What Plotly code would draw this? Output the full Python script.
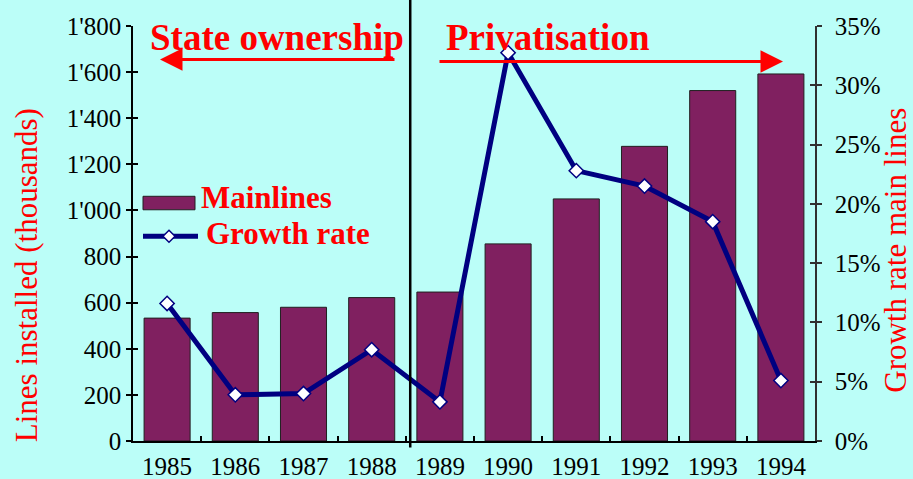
import plotly.graph_objects as go

years = ["1985", "1986", "1987", "1988", "1989", "1990", "1991", "1992", "1993", "1994"]
mainlines = [533, 557, 580, 622, 646, 855, 1050, 1278, 1520, 1592]
growth = [0.116, 0.039, 0.040, 0.077, 0.033, 0.3275, 0.228, 0.215, 0.185, 0.051]

y_ticks = [0, 200, 400, 600, 800, 1000, 1200, 1400, 1600, 1800]
y_ticktext = ["0", "200", "400", "600", "800", "1'000", "1'200", "1'400", "1'600", "1'800"]
y2_ticks = [0, 0.05, 0.10, 0.15, 0.20, 0.25, 0.30, 0.35]
y2_ticktext = ["0%", "5%", "10%", "15%", "20%", "25%", "30%", "35%"]

BG = "#bbfef8"
BAR = "#802060"
NAVY = "#000080"
RED = "#ff0000"
FONT = "Liberation Serif"

xpos = list(range(len(years)))
bounds = [i + 0.5 for i in range(len(years) - 1)]

fig = go.Figure()
fig.add_trace(go.Bar(x=xpos, y=mainlines, width=0.675, marker=dict(color=BAR, line=dict(color="#202020", width=1)),
                     name="Mainlines", showlegend=False))
fig.add_trace(go.Scatter(x=xpos, y=growth, yaxis="y2", mode="lines+markers", name="Growth rate",
                         line=dict(color=NAVY, width=5),
                         marker=dict(symbol="diamond", size=11, color="white", line=dict(color=NAVY, width=1.5)),
                         showlegend=False))
# invisible helper traces so the tick-overlay axes render
fig.add_trace(go.Scatter(x=[None], y=[None], xaxis="x2", yaxis="y", showlegend=False, hoverinfo="skip"))
fig.add_trace(go.Scatter(x=[None], y=[None], xaxis="x", yaxis="y3", showlegend=False, hoverinfo="skip"))
fig.add_trace(go.Scatter(x=[None], y=[None], xaxis="x", yaxis="y4", showlegend=False, hoverinfo="skip"))

tickfont = dict(family=FONT, size=25, color="black")

fig.update_layout(
    width=913, height=479,
    margin=dict(l=133, r=98, t=26, b=37.5, autoexpand=False),
    paper_bgcolor=BG, plot_bgcolor=BG,
    showlegend=False,
    bargap=0.3,
    xaxis=dict(range=[-0.5, 9.5], tickvals=xpos, ticktext=years, ticks="", showgrid=False, zeroline=False,
               showline=True, linecolor="black", linewidth=1.5, tickfont=tickfont, fixedrange=True,
               ticklabelstandoff=2, automargin=False),
    xaxis2=dict(range=[-0.5, 9.5], overlaying="x", anchor="y", side="bottom", tickvals=bounds,
                ticks="inside", ticklen=5, tickwidth=1.5, tickcolor="black", showticklabels=False,
                showgrid=False, zeroline=False, showline=False, automargin=False),
    yaxis=dict(range=[0, 1800], tickvals=y_ticks, ticktext=y_ticktext, ticks="outside", ticklen=5,
               tickwidth=1.5, tickcolor="black", showgrid=False, zeroline=False, showline=True,
               linecolor="black", linewidth=1.5, tickfont=tickfont, ticklabelstandoff=0, automargin=False),
    yaxis3=dict(range=[0, 1800], overlaying="y", anchor="x", side="left", tickvals=y_ticks, ticks="inside",
                ticklen=5, tickwidth=1.5, tickcolor="black", showticklabels=False, showgrid=False,
                zeroline=False, showline=False, automargin=False),
    yaxis2=dict(range=[0, 0.35], overlaying="y", anchor="x", side="right", tickvals=y2_ticks,
                ticktext=y2_ticktext, ticks="outside", ticklen=5, tickwidth=1.5, tickcolor="#303030",
                showgrid=False, zeroline=False, showline=True, linecolor="#303030", linewidth=1.5,
                tickfont=tickfont, ticklabelstandoff=8, automargin=False),
    yaxis4=dict(range=[0, 0.35], overlaying="y", anchor="x", side="right", tickvals=y2_ticks, ticks="inside",
                ticklen=5, tickwidth=1.5, tickcolor="#303030", showticklabels=False, showgrid=False,
                zeroline=False, showline=False, automargin=False),
)

def px2x(px):
    return (px - 133) / 682.0

def py2y(py):
    return (441.5 - py) / 415.5

# divider between eras
fig.add_shape(type="line", xref="x", yref="paper", x0=3.565, x1=3.565, y0=py2y(448), y1=py2y(-5),
              line=dict(color="black", width=2.5))

# era labels
fig.add_annotation(text="<b>State ownership</b>", xref="paper", yref="paper", x=px2x(277), y=py2y(38),
                   showarrow=False, font=dict(family=FONT, size=37, color=RED), xanchor="center", yanchor="middle")
fig.add_annotation(text="<b>Privatisation</b>", xref="paper", yref="paper", x=px2x(548), y=py2y(38),
                   showarrow=False, font=dict(family=FONT, size=37, color=RED), xanchor="center", yanchor="middle")

# era arrows
fig.add_annotation(text="", xref="x domain", yref="y domain", axref="x domain", ayref="y domain",
                   x=px2x(160), y=py2y(59.5), ax=px2x(396), ay=py2y(59.5), showarrow=True,
                   arrowhead=2, arrowsize=1.5, arrowwidth=3, arrowcolor=RED)
fig.add_annotation(text="", xref="x domain", yref="y domain", axref="x domain", ayref="y domain",
                   x=px2x(783), y=py2y(61.5), ax=px2x(438), ay=py2y(61.5), showarrow=True,
                   arrowhead=2, arrowsize=1.5, arrowwidth=3, arrowcolor=RED)

# axis titles
fig.add_annotation(text="Lines installed (thousands)", xref="paper", yref="paper", x=px2x(26), y=py2y(275.5),
                   showarrow=False, textangle=-90, font=dict(family=FONT, size=31, color=RED),
                   xanchor="center", yanchor="middle")
fig.add_annotation(text="Growth rate main lines", xref="paper", yref="paper", x=px2x(896), y=py2y(250),
                   showarrow=False, textangle=-90, font=dict(family=FONT, size=31, color=RED),
                   xanchor="center", yanchor="middle")

# legend (drawn manually)
fig.add_shape(type="rect", xref="paper", yref="paper", x0=px2x(143), x1=px2x(195), y0=py2y(210), y1=py2y(196.5),
              fillcolor=BAR, line=dict(color="#202020", width=1))
fig.add_shape(type="line", xref="paper", yref="paper", x0=px2x(143), x1=px2x(198), y0=py2y(236.5), y1=py2y(236.5),
              line=dict(color=NAVY, width=5))
fig.add_shape(type="path", xref="paper", yref="paper", xsizemode="pixel", ysizemode="pixel",
              xanchor=px2x(169), yanchor=py2y(236.5), path="M0,6 L6,0 L0,-6 L-6,0 Z",
              fillcolor="white", line=dict(color=NAVY, width=1.5))
fig.add_annotation(text="<b>Mainlines</b>", xref="paper", yref="paper", x=px2x(199), y=py2y(198),
                   showarrow=False, font=dict(family=FONT, size=31, color=RED), xanchor="left", yanchor="middle")
fig.add_annotation(text="<b>Growth rate</b>", xref="paper", yref="paper", x=px2x(204), y=py2y(234),
                   showarrow=False, font=dict(family=FONT, size=31, color=RED), xanchor="left", yanchor="middle")

fig.write_html("out.html", config={"displayModeBar": False},
               post_script="document.body.style.margin='0';document.body.style.overflow='hidden';")
